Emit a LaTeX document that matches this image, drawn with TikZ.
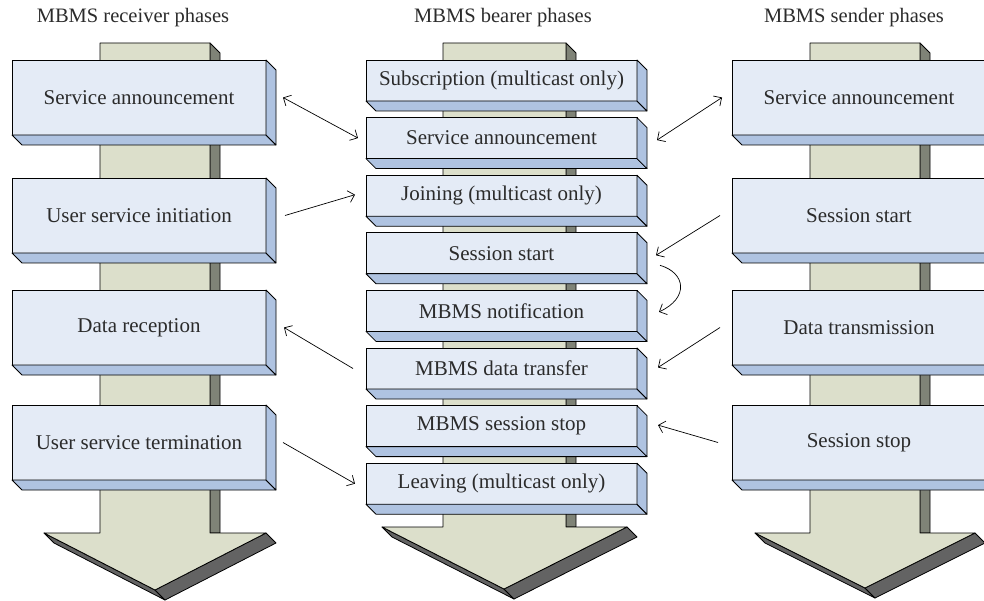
\documentclass[tikz,border=0pt]{standalone}
\usepackage{fontspec}
\setmainfont{Liberation Serif}
\usetikzlibrary{arrows.meta,calc}
\definecolor{boxfront}{HTML}{E4EBF6}
\definecolor{boxside}{HTML}{AFC3E1}
\definecolor{shaftfront}{HTML}{DCDFCB}
\definecolor{shaftside}{HTML}{7F8377}
\definecolor{headside}{HTML}{636363}
\definecolor{txt}{HTML}{2B2B2B}
\tikzset{
  phase/.style={draw=black, fill=boxfront, line width=0.8pt, inner sep=0pt, outer sep=0pt, text=txt, font=\fontsize{21}{24}\selectfont},
  widebox/.style={phase, minimum width=254pt, minimum height=75pt},
  slimbox/.style={phase, minimum width=271pt, minimum height=41pt},
  face/.style={draw=black, fill=boxside, line width=0.8pt, line join=round},
  title/.style={text=txt, inner sep=0pt, font=\fontsize{20.5}{24}\selectfont},
  conn/.style={draw=black, line width=0.7pt, -{Straight Barb[length=6pt,width=12pt]}},
  dconn/.style={draw=black, line width=0.7pt, {Straight Barb[length=6pt,width=12pt]}-{Straight Barb[length=6pt,width=12pt]}},
  shaftsty/.style={draw=black, fill=shaftfront, line width=0.8pt, line join=round},
  shaftsidesty/.style={draw=black, fill=shaftside, line width=0.8pt, line join=round},
  headsidesty/.style={draw=black, fill=headside, line width=0.8pt, line join=round}
}
\newcommand\sidefaces[1]{%
  \filldraw[face] (#1.south west) -- ($(#1.south west)+(10,10)$) -- ($(#1.south east)+(10,10)$) -- (#1.south east) -- cycle;
  \filldraw[face] (#1.north east) -- ($(#1.north east)+(10,10)$) -- ($(#1.south east)+(10,10)$) -- (#1.south east) -- cycle;}
% #1 xl, #2 xr, #3 top, #4 bottom of shaft, #5 Ax, #6 Bx, #7 Cx, #8 Cy
\newcommand\flowarrow[8]{%
  \filldraw[shaftsidesty] (#2,#3) -- ($(#2,#3)+(10,10)$) -- ($(#2,#4)+(10,0)$) -- (#2,#4) -- cycle;
  \filldraw[headsidesty] (#5,#4) -- (#7,#8) -- ($(#7,#8)+(10,10)$) -- ($(#5,#4)+(10,10)$) -- cycle;
  \filldraw[headsidesty] (#7,#8) -- (#6,#4) -- ($(#6,#4)+(10,10)$) -- ($(#7,#8)+(10,10)$) -- cycle;
  \filldraw[shaftsty] (#1,#3) -- (#2,#3) -- (#2,#4) -- (#6,#4) -- (#7,#8) -- (#5,#4) -- (#1,#4) -- cycle;}
\begin{document}
\begin{tikzpicture}[x=1pt,y=-1pt]
\useasboundingbox (0,0) rectangle (984,601);
\clip (0,0) rectangle (984,601);

% titles
\node[title] (tl) at (133,18) {MBMS receiver phases};
\node[title] (tm) at (503,18) {MBMS bearer phases};
\node[title] (tr) at (854,18) {MBMS sender phases};

% big arrows
\flowarrow{100}{210}{43}{533}{44}{266}{155}{590}
\flowarrow{443}{566}{43}{527}{382}{627}{504}{589}
\flowarrow{810}{920}{43}{533}{755}{975}{865}{588}

% receiver boxes
\node[widebox] (L1) at (139,97.5) {Service announcement};
\node[widebox] (L2) at (139,215.5) {User service initiation};
\node[widebox] (L3) at (139,327.5) {Data reception};
\node[widebox] (L4) at (139,442.5) {User service termination};
\foreach \n in {L1,L2,L3,L4} {\sidefaces{\n}}

% bearer boxes
\node[slimbox] (M1) at (501.5,80.5) {Subscription (multicast only)};
\node[slimbox] (M2) at (501.5,138.1) {Service announcement};
\node[slimbox] (M3) at (501.5,195.7) {Joining (multicast only)};
\node[slimbox] (M4) at (501.5,253.3) {Session start};
\node[slimbox] (M5) at (501.5,310.9) {MBMS notification};
\node[slimbox] (M6) at (501.5,368.5) {MBMS data transfer};
\node[slimbox] (M7) at (501.5,426.1) {MBMS session stop};
\node[slimbox] (M8) at (501.5,483.7) {Leaving (multicast only)};
\foreach \n in {M1,M2,M3,M4,M5,M6,M7,M8} {\sidefaces{\n}}

% sender boxes
\node[widebox] (R1) at (859,97.5) {Service announcement};
\node[widebox] (R2) at (859,215.5) {Session start};
\node[widebox] (R3) at (859,327.5) {Data transmission};
\node[widebox] (R4) at (859,442.5) {Session stop};
\foreach \n in {R1,R2,R3,R4} {\sidefaces{\n}}

% connectors
\draw[dconn] ($(L1.east)+(17,0)$) -- ($(M2.west)+(-8,0)$);
\draw[dconn] ($(M2.east)+(20,2)$) -- ($(R1.west)+(-10,0)$);
\draw[conn] ($(L2.east)+(19,0)$) -- ($(M3.west)+(-11,-1)$);
\draw[conn] ($(R2.west)+(-12,0)$) -- ($(M4.east)+(19,2)$);
\draw[conn] ($(M4.east)+(23,12)$) .. controls (686,273) and (689,298) .. ($(M5.east)+(22,1)$);
\draw[conn] ($(R3.west)+(-12,0)$) -- ($(M6.east)+(21,-1)$);
\draw[conn] ($(M6.west)+(-13,0)$) -- ($(L3.east)+(18,0)$);
\draw[conn] ($(R4.west)+(-14,0)$) -- ($(M7.east)+(21,-1)$);
\draw[conn] ($(L4.east)+(17,0)$) -- ($(M8.west)+(-11,0)$);
\end{tikzpicture}
\end{document}
